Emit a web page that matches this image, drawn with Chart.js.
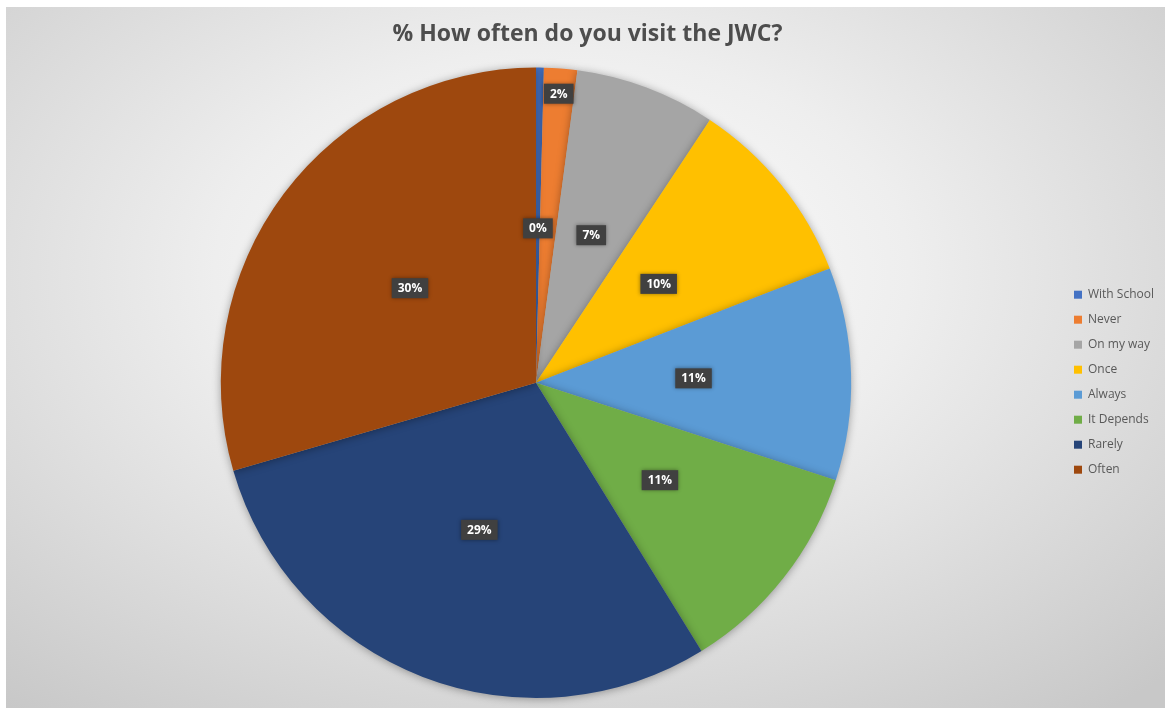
<!DOCTYPE html>
<html>
<head>
<meta charset="utf-8">
<script src="https://cdn.jsdelivr.net/npm/chart.js@4.4.1/dist/chart.umd.min.js"></script>
<style>
  html, body { margin: 0; padding: 0; background: #ffffff; }
  #wrap {
    position: absolute; left: 6px; top: 7px; width: 1159px; height: 701px;
    background: radial-gradient(ellipse 75% 80% at 48% 38%, #ffffff 0%, #eeeeee 40%, #c8c8c8 100%);
  }
</style>
</head>
<body>
<div id="wrap"><canvas id="chartJWC"></canvas></div>
<script>
// categorias y valores (%)
const categorias = ['With School', 'Never', 'On my way', 'Once', 'Always', 'It Depends', 'Rarely', 'Often'];
const valores = [0.4, 1.7, 7.2, 9.8, 10.9, 11.2, 29.3, 29.5];
const colores = ['#4472C4', '#ED7D31', '#A5A5A5', '#FFC000', '#5B9BD5', '#70AD47', '#264478', '#9E480E'];
// distancia de la etiqueta al centro (fraccion del radio)
const posEtiqueta = [0.49, 0.92, 0.5, 0.5, 0.5, 0.5, 0.5, 0.5];

const fuente = '"Open Sans", "DejaVu Sans", sans-serif';

// sombra suave alrededor del pie
const sombraPie = {
    id: 'sombraPie',
    beforeDatasetsDraw(chart) {
        const ctx = chart.ctx;
        ctx.save();
        ctx.shadowColor = 'rgba(0,0,0,0.35)';
        ctx.shadowBlur = 8;
        ctx.shadowOffsetX = 0;
        ctx.shadowOffsetY = 1;
    },
    afterDatasetsDraw(chart) {
        chart.ctx.restore();
    }
};

// etiquetas de porcentaje con caja gris oscura
const etiquetas = {
    id: 'etiquetas',
    afterDatasetsDraw(chart) {
        const ctx = chart.ctx;
        const meta = chart.getDatasetMeta(0);
        const total = valores.reduce((a, b) => a + b, 0);
        ctx.save();
        ctx.font = 'bold 12px ' + fuente;
        ctx.textAlign = 'center';
        ctx.textBaseline = 'middle';
        meta.data.forEach((arc, i) => {
            const p = arc.getProps(['x', 'y', 'startAngle', 'endAngle', 'outerRadius'], true);
            const mid = (p.startAngle + p.endAngle) / 2;
            const r = p.outerRadius * posEtiqueta[i];
            const x = p.x + Math.cos(mid) * r;
            const y = p.y + Math.sin(mid) * r;
            const txt = Math.round(valores[i] / total * 100) + '%';
            const w = ctx.measureText(txt).width + 12;
            const h = 20;
            ctx.shadowColor = 'rgba(0,0,0,0.4)';
            ctx.shadowBlur = 4;
            ctx.fillStyle = '#404040';
            ctx.fillRect(x - w / 2, y - h / 2, w, h);
            ctx.shadowColor = 'transparent';
            ctx.shadowBlur = 0;
            ctx.fillStyle = '#ffffff';
            ctx.fillText(txt, x, y + 0.5);
        });
        ctx.restore();
    }
};

const myPie = new Chart(document.getElementById('chartJWC'), {
    type: 'pie',
    data: {
        labels: categorias,
        datasets: [{
            data: valores,
            backgroundColor: colores,
            borderWidth: 0,
            hoverOffset: 0,
            offset: 0
        }]
    },
    options: {
        responsive: true,
        maintainAspectRatio: false,
        animation: false,
        layout: {
            padding: { left: 5, right: 1, top: 0, bottom: 10 }
        },
        plugins: {
            title: {
                display: true,
                text: '% How often do you visit the JWC?',
                color: '#4d4d4d',
                font: { family: fuente, size: 23, weight: 'bold', lineHeight: 1.2 },
                padding: { top: 14, bottom: 19 }
            },
            legend: {
                position: 'right',
                // titulo vacio solo para bajar las entradas de la leyenda
                title: {
                    display: true,
                    text: '',
                    font: { size: 12, lineHeight: 1.2 },
                    padding: { top: 0, bottom: 45 }
                },
                labels: {
                    color: '#595959',
                    font: { family: fuente, size: 12, lineHeight: 1.2 },
                    boxWidth: 8,
                    boxHeight: 8,
                    padding: 13
                }
            },
            tooltip: { enabled: false }
        }
    },
    plugins: [sombraPie, etiquetas]
});
</script>
</body>
</html>
